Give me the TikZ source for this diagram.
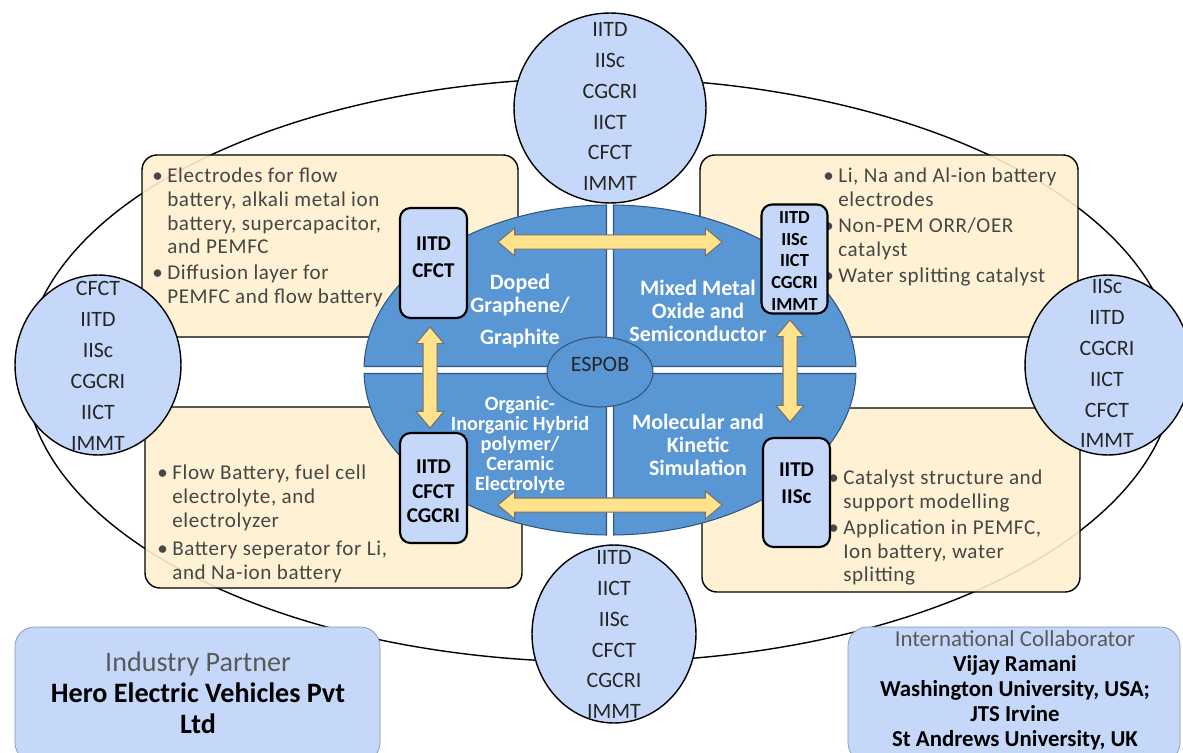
\documentclass[tikz,border=0pt]{standalone}
\usepackage{fontspec}
\setmainfont{Carlito}
\usetikzlibrary{shapes.geometric,shapes.arrows,calc}

\definecolor{quadblue}{RGB}{88,150,212}
\definecolor{quadline}{RGB}{50,85,125}
\definecolor{uniblue}{RGB}{198,216,250}
\definecolor{boxbeige}{RGB}{255,240,206}
\definecolor{arrowyellow}{RGB}{255,226,140}
\definecolor{notegray}{RGB}{70,70,70}
\definecolor{partnerline}{RGB}{125,150,185}

\newcommand*{\bl}{\makebox[8.5pt][l]{\textbullet}}
\newcommand*{\ind}{\hspace*{8.5pt}}
% fat two-headed arrow between two named points
\newcommand*{\fatarrow}[3]{%
  \path let \p1=($(#3)-(#2)$), \n1={veclen(\x1,\y1)}, \n2={atan2(\y1,\x1)} in
    node[twoway, rotate=\n2, minimum height=\n1] (#1) at ($(#2)!0.5!(#3)$) {};}

\tikzset{
  beigebox/.style={thick, fill=boxbeige, fill opacity=0.9, rounded corners=8.5pt},
  notes/.style={align=left, anchor=north west, inner sep=0pt, text=notegray,
    font=\fontsize{12}{13.4}\selectfont\addfontfeatures{LetterSpace=3}},
  unicirc/.style={ellipse, thick, draw, fill=uniblue, inner sep=0pt},
  unitext/.style={align=center, text=black!85, font=\fontsize{12.5}{17.6}\selectfont},
  quad/.style={fill=quadblue, draw=quadline, line width=0.6pt},
  quadtext/.style={align=center, text=white, font=\bfseries\fontsize{12.5}{13}\selectfont},
  inst/.style={draw, very thick, fill=uniblue, rounded corners=6pt, inner sep=0pt},
  insttext/.style={align=center, font=\bfseries\fontsize{12}{15.3}\selectfont},
  twoway/.style={double arrow, draw=black!55, fill=arrowyellow, line width=0.6pt,
    inner xsep=0pt, inner ysep=3.7pt, minimum width=0.54cm,
    double arrow head extend=0.14cm, double arrow tip angle=80},
  partnerbox/.style={draw=partnerline, fill=uniblue, rounded corners=11pt},
}

\begin{document}
\begin{tikzpicture}[x=0.02cm, y=0.02cm]
\useasboundingbox (0,0) rectangle (1183,-753);

%Outer ring
\draw [thick] (600,-370) ellipse [x radius=575, y radius=292];

%Beige boxes
\draw [beigebox] (142,-155) rectangle (518,-337);
\draw [beigebox] (700,-155) rectangle (1078,-337);
\draw [beigebox] (145,-407) rectangle (522,-588);
\draw [beigebox] (702,-408) rectangle (1080,-592);

\node[notes] (tlnotes) at (152,-168) {\bl Electrodes for flow\\\ind battery, alkali metal ion\\\ind battery, supercapacitor,\\\ind and PEMFC\\[1.5pt]\bl Diffusion layer for\\\ind PEMFC and flow battery};
\node[notes] (trnotes) at (823,-168) {\bl Li, Na and Al-ion battery\\\ind electrodes\\[1.5pt]\bl Non-PEM ORR/OER\\\ind catalyst\\[1.5pt]\bl Water splitting catalyst};
\node[notes] (blnotes) at (157,-465) {\bl Flow Battery, fuel cell\\\ind electrolyte, and\\\ind electrolyzer\\[3pt]\bl Battery seperator for Li,\\\ind and Na-ion battery};
\node[notes] (brnotes) at (828,-470) {\bl Catalyst structure and\\\ind support modelling\\[1.5pt]\bl Application in PEMFC,\\\ind Ion battery, water\\\ind splitting};

%Partner circles
\node[unicirc, minimum width=3.84cm, minimum height=3.8cm] (topcirc) at (610,-108) {};
\node[unitext] (toplist) at (610,-106.5) {IITD\\IISc\\CGCRI\\IICT\\CFCT\\IMMT};
\node[unicirc, minimum width=3.32cm, minimum height=3.6cm] (leftcirc) at (98,-365) {};
\node[unitext] (leftlist) at (98,-366) {CFCT\\IITD\\IISc\\CGCRI\\IICT\\IMMT};
\node[unicirc, minimum width=3.32cm, minimum height=3.6cm] (rightcirc) at (1108,-365) {};
\node[unitext] (rightlist) at (1107,-363.5) {IISc\\IITD\\CGCRI\\IICT\\CFCT\\IMMT};
\node[unicirc, minimum width=3.28cm, minimum height=3.56cm] (botcirc) at (614,-634) {};
\node[unitext] (botlist) at (614,-634.5) {IITD\\IICT\\IISc\\CFCT\\CGCRI\\IMMT};

%Centre ellipse, four quarters
\draw [quad] (606.5,-366.5) -- (364.06,-366.5) arc [start angle=178.785, end angle=90.82, x radius=246, y radius=165] -- cycle;
\draw [quad] (613.5,-366.5) -- (613.5,-205.02) arc [start angle=89.18, end angle=1.215, x radius=246, y radius=165] -- cycle;
\draw [quad] (606.5,-373.5) -- (606.5,-534.98) arc [start angle=269.18, end angle=181.215, x radius=246, y radius=165] -- cycle;
\draw [quad] (613.5,-373.5) -- (855.94,-373.5) arc [start angle=-1.215, end angle=-89.18, x radius=246, y radius=165] -- cycle;

\draw [quad] (600,-372) ellipse [x radius=53, y radius=35];
\node[font=\fontsize{12.5}{14}\selectfont, text=black!85] (espob) at (600,-364) {ESPOB};

\node[quadtext] (doped) at (520,-311) {Doped\\Graphene/\\[5pt]Graphite};
\node[quadtext] (mixed) at (698,-311) {Mixed Metal\\Oxide and\\Semiconductor};
\node[quadtext, font=\bfseries\fontsize{11.5}{11.5}\selectfont] (hybrid) at (520,-445) {Organic-\\Inorganic Hybrid\\polymer/\\Ceramic\\Electrolyte};
\node[quadtext] (simul) at (698,-445) {Molecular and\\Kinetic\\Simulation};

%Partners per topic
\node[inst, minimum width=1.34cm, minimum height=2.2cm] (tlinst) at (433.5,-263) {};
\node[insttext] (tlnames) at (433.5,-257) {IITD\\CFCT};
\node[inst, minimum width=1.32cm, minimum height=2.18cm] (trinst) at (794.5,-259) {};
\node[insttext, font=\bfseries\fontsize{10.5}{12.5}\selectfont] (trnames) at (794.5,-261) {IITD\\IISc\\IICT\\CGCRI\\IMMT};
\node[inst, minimum width=1.34cm, minimum height=2.2cm] (blinst) at (433.5,-488) {};
\node[insttext, font=\bfseries\fontsize{12}{13.9}\selectfont] (blnames) at (433.5,-491.5) {IITD\\CFCT\\CGCRI};
\node[inst, minimum width=1.34cm, minimum height=2.18cm] (brinst) at (796.5,-492.5) {};
\node[insttext] (brnames) at (796.5,-483.5) {IITD\\IISc};

%Links
\coordinate (dopedend) at (498,-242);
\coordinate (mixedend) at (722,-242);
\coordinate (hybridend) at (498,-505);
\coordinate (simulend) at (722,-505);
\coordinate (leftup) at (430,-327);
\coordinate (leftdown) at (430,-428);
\coordinate (rightup) at (790,-320);
\coordinate (rightdown) at (790,-422);
\fatarrow{toparrow}{dopedend}{mixedend}
\fatarrow{botarrow}{hybridend}{simulend}
\fatarrow{leftarrow}{leftup}{leftdown}
\fatarrow{rightarrow}{rightup}{rightdown}

%Bottom left and right
\draw [partnerbox] (15,-627) rectangle (380,-762);
\node[align=center, font=\fontsize{16}{17.6}\selectfont] (industry) at (198,-693)
  {{\color{black!65}Industry Partner}\\\textbf{Hero Electric Vehicles Pvt}\\\textbf{Ltd}};
\draw [partnerbox] (848,-627) rectangle (1180,-762);
\node[align=center, font=\fontsize{13}{14.2}\selectfont] (collab) at (1015,-690.5)
  {{\color{black!65}International Collaborator}\\\textbf{Vijay Ramani}\\\textbf{Washington University, USA;}\\\textbf{JTS Irvine}\\\textbf{St Andrews University, UK}};
\end{tikzpicture}
\end{document}
